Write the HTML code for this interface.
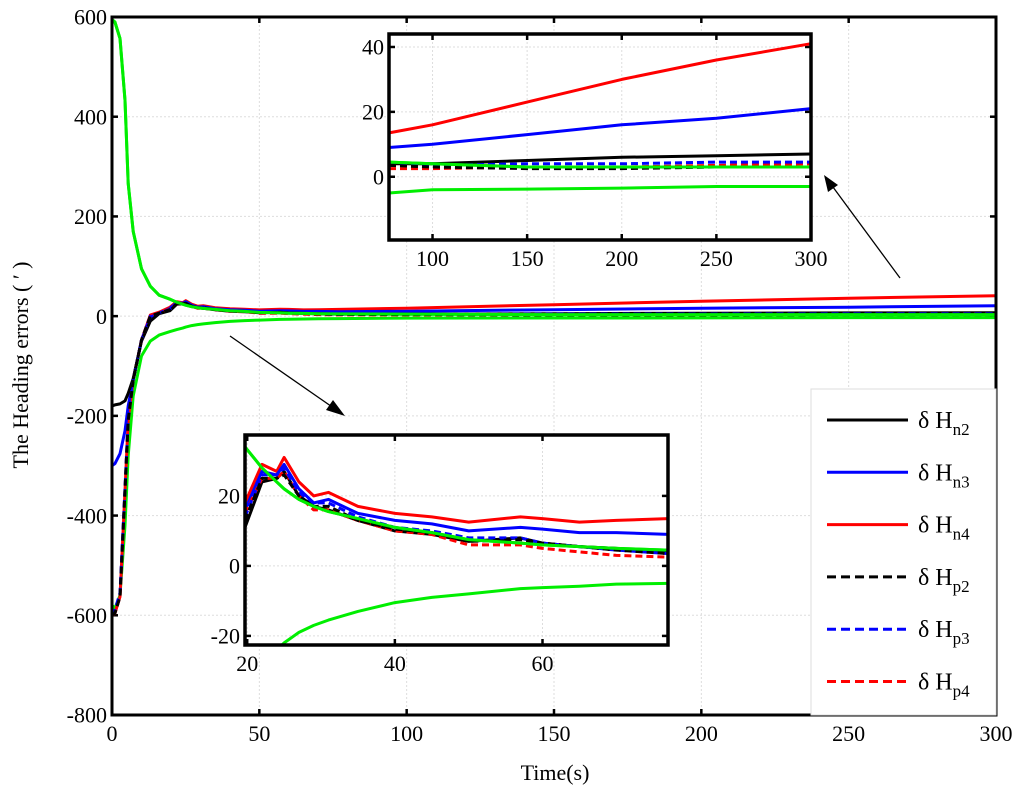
<!DOCTYPE html>
<html><head><meta charset="utf-8">
<style>
html,body{margin:0;padding:0;background:#fff;overflow:hidden;width:1024px;height:795px;}
svg{display:block;font-family:"Liberation Serif",serif;}
</style></head>
<body>
<svg id="chart" width="1024" height="795" viewBox="0 0 1024 795" xmlns="http://www.w3.org/2000/svg">
<g id="main"></g>
<text x="555" y="780" font-size="22" text-anchor="middle">Time(s)</text>
<text transform="translate(28,365) rotate(-90)" font-size="22" text-anchor="middle">The Heading errors ( ′ )</text>
<g>
<line x1="230" y1="336" x2="338" y2="411" stroke="#000" stroke-width="1.3"/>
<polygon points="345,416 326,410 333,400" fill="#000"/>
</g>
<g>
<line x1="900" y1="278" x2="830" y2="183" stroke="#000" stroke-width="1.3"/>
<polygon points="824,175 838,185 828,192" fill="#000"/>
</g>
<g id="inset1"></g>
<g id="inset2"></g>
<g id="legend"></g>
</svg>
<script>
const T   = [0,1,2.7,4.4,5.5,7.2,10,13,16,19.7,22,24,25,27,29,31,35,40,45,50,57,60,65,70,77,100,150,200,250,300];
const gUp = [595,590,557,433,266,170,95,60,42,34,28,24,22,19,17,15.5,13.5,11,9.5,7.5,6.5,6,5.5,5,4.5,4,3,3,3,3];
const gLo = [-580,-586,-560,-420,-280,-160,-80,-50,-38,-31,-27,-24,-22,-19,-17,-15.5,-13,-10.5,-9,-8,-6.5,-6.2,-5.8,-5.2,-5,-4,-3.8,-3.5,-3,-3];
const n4  = [-600,-596,-563,-350,-209,-128,-48,2,8,18,29,27,31,24,20,21,17,15,14,12.5,14,13.5,12.5,13,13.5,16,23,30,36,41];
const n3  = [-300,-296,-276,-230,-180,-128,-48,-2,6,16,27,26,29,22,18,19,15,13,12,10,11,10.5,9.5,9.5,9,10,13,16,18,21];
const n2  = [-180,-178,-176,-170,-155,-125,-50,-10,5,11,24,25,27,20,17,16,13,10,9,7,8,6.5,5.5,5,4,4,5,6,6.5,7];
const p2  = [-600,-596,-563,-350,-209,-128,-48,0,6,13,25,25,26,20,17,17,13,10.5,9.5,7,7.5,6.5,5.5,4.5,3.5,3,2.5,2.5,3,3];
const p3  = [-600,-590,-555,-345,-205,-128,-48,0,6,14,26,26,28,21,18,18,14,11,10,8,8,6.5,5.5,4.5,3.5,3.5,4,4,4.5,4.5];
const p4  = [-600,-596,-563,-350,-209,-128,-48,1,7,15,25,25,27,20,16,16,13,10,9,6,6,5,4,3,2.5,2.5,3,3,3.5,4];
const seriesNames = ["n2","n3","n4","p2","p3","p4"];
const legendLabels = [["n2"],["n3"],["n4"],["p2"],["p3"],["p4"]];
const mainXTicks = [0,50,100,150,200,250,300];
const mainYTicks = [-800,-600,-400,-200,0,200,400,600];
const in1XTicks = [100,150,200,250,300];
const in1YTicks = [0,20,40];
const in2XTicks = [20,40,60];
const in2YTicks = [-20,0,20];

const NS="http://www.w3.org/2000/svg";
function mk(tag,attrs,parent){const e=document.createElementNS(NS,tag);for(const k in attrs)e.setAttribute(k,attrs[k]);parent.appendChild(e);return e;}
const styles={
 n2:{c:"#000",d:null}, n3:{c:"#0000ff",d:null}, n4:{c:"#ff0000",d:null},
 p2:{c:"#000",d:"7,4"}, p3:{c:"#0000ff",d:"7,4"}, p4:{c:"#ff0000",d:"7,4"}
};
const data={n2,n3,n4,p2,p3,p4};

function clipSeg(x0,y0,x1,y1,b){
 let t0=0,t1=1;const dx=x1-x0,dy=y1-y0;
 const p=[-dx,dx,-dy,dy],q=[x0-b.x0,b.x1-x0,y0-b.y0,b.y1-y0];
 for(let i=0;i<4;i++){
  if(p[i]===0){if(q[i]<0)return null;}
  else{const r=q[i]/p[i];
   if(p[i]<0){if(r>t1)return null;if(r>t0)t0=r;}
   else{if(r<t0)return null;if(r<t1)t1=r;}}
 }
 return [x0+t0*dx,y0+t0*dy,x0+t1*dx,y0+t1*dy];
}

function axes(g,id,box,xr,yr,xt,yt,fs,bw){
 const sx=v=>box.x0+(v-xr[0])/(xr[1]-xr[0])*(box.x1-box.x0);
 const sy=v=>box.y1-(v-yr[0])/(yr[1]-yr[0])*(box.y1-box.y0);
 mk('rect',{x:box.x0,y:box.y0,width:box.x1-box.x0,height:box.y1-box.y0,fill:'#fff'},g);
 xt.forEach(v=>{const x=sx(v);
  const l=mk('line',{x1:x,x2:x,y1:box.y0,y2:box.y1,stroke:'#ddd','stroke-width':1,'stroke-dasharray':'2,2'},g);
  
  
  const t=mk('text',{x:x,y:box.y1+fs+4,'font-size':fs,'text-anchor':'middle'},g);t.textContent=v;
  
  
  mk('line',{x1:x,x2:x,y1:box.y1,y2:box.y1-6,stroke:'#000','stroke-width':2.5},g);
  mk('line',{x1:x,x2:x,y1:box.y0,y2:box.y0+6,stroke:'#000','stroke-width':2.5},g);
 });
 yt.forEach(v=>{const y=sy(v);
  const l=mk('line',{x1:box.x0,x2:box.x1,y1:y,y2:y,stroke:'#ddd','stroke-width':1,'stroke-dasharray':'2,2'},g);
  
  
  const t=mk('text',{x:box.x0-5,y:y+fs*0.35,'font-size':fs,'text-anchor':'end'},g);t.textContent=v;
  
  
  mk('line',{x1:box.x0,x2:box.x0+6,y1:y,y2:y,stroke:'#000','stroke-width':2.5},g);
  mk('line',{x1:box.x1,x2:box.x1-6,y1:y,y2:y,stroke:'#000','stroke-width':2.5},g);
 });
 const lg=mk('g',{},g);
 function line(vals,color,dash,name){
  let d='';let last=null;
  for(let i=0;i<T.length-1;i++){
   const c=clipSeg(sx(T[i]),sy(vals[i]),sx(T[i+1]),sy(vals[i+1]),box);
   if(!c){last=null;continue;}
   const s=c[0].toFixed(1)+','+c[1].toFixed(1);
   if(last!==s)d+='M'+s;
   const e=c[2].toFixed(1)+','+c[3].toFixed(1);
   d+='L'+e;last=e;
  }
  const a={d:d,fill:'none',stroke:color,'stroke-width':3,'stroke-linejoin':'round'};
  if(dash)a['stroke-dasharray']=dash;
  const p=mk('path',a,lg);
  
  
 }
 line(gUp,'#00ee00',null,'green-upper-bound');
 line(gLo,'#00ee00',null,'green-lower-bound');
 ['n4','n3','n2','p4','p3','p2'].forEach(n=>line(data[n],styles[n].c,styles[n].d,'series-'+n));
 line(gUp,'#00ee00',null,'green-upper-bound-top');
 mk('rect',{x:box.x0,y:box.y0,width:box.x1-box.x0,height:box.y1-box.y0,fill:'none',stroke:'#000','stroke-width':bw},g);
}
axes(document.getElementById('main'),'main',{x0:112,x1:996,y0:17,y1:715},[0,300],[-800,600],mainXTicks,mainYTicks,22,3);
axes(document.getElementById('inset1'),'in1',{x0:389,x1:811,y0:34,y1:240},[77,300],[-19.5,44],in1XTicks,in1YTicks,22,3.5);
axes(document.getElementById('inset2'),'in2',{x0:245,x1:668,y0:435,y1:645},[19.7,77],[-22.6,37.4],in2XTicks,in2YTicks,22,3.5);

const lgG=document.getElementById('legend');
mk('rect',{x:811,y:389,width:185,height:326,fill:'#fff',stroke:'#ddd','stroke-width':1},lgG);
seriesNames.forEach((n,i)=>{
 const y=420+i*52.3;
 const a={x1:827,x2:908,y1:y,y2:y,stroke:styles[n].c,'stroke-width':3};
 if(styles[n].d)a['stroke-dasharray']='9,5';
 const l=mk('line',a,lgG);
 
 
 const t=mk('text',{x:918,y:y+8,'font-size':24},lgG);
 
 
 t.textContent='δ H';
 const s=mk('tspan',{'font-size':17,dy:7},t);
 s.textContent=legendLabels[i][0];
});
</script>
</body></html>
